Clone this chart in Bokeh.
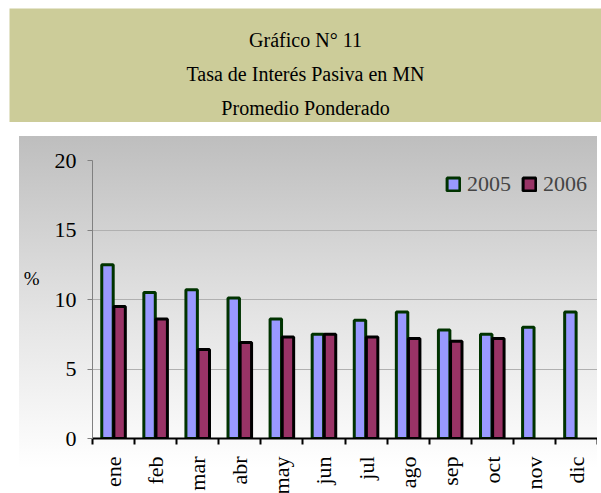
import math
from bokeh.plotting import figure
from bokeh.models import (ColumnDataSource, Range1d, FixedTicker, CustomJSTickFormatter,
                          Legend, LegendItem, LinearAxis)
from bokeh.transform import dodge
from bokeh.core.properties import value
from bokeh.embed import file_html
from bokeh.resources import INLINE

# ---- data ----
months = ["ene", "feb", "mar", "abr", "may", "jun", "jul", "ago", "sep", "oct", "nov", "dic"]
tasa_2005 = [12.5, 10.5, 10.7, 10.1, 8.6, 7.5, 8.5, 9.1, 7.8, 7.5, 8.0, 9.1]
tasa_2006 = [9.5, 8.6, 6.4, 6.9, 7.3, 7.5, 7.3, 7.2, 7.0, 7.2, float("nan"), float("nan")]
y_ticks = [0, 5, 10, 15, 20]
title_lines = ["Gráfico N° 11", "Tasa de Interés Pasiva en MN", "Promedio Ponderado"]
y_unit = "%"

FONT = "Liberation Serif"

# ---- title box ----
tf = figure(width=592, height=114, output_backend="svg", toolbar_location=None,
            x_range=Range1d(0, 592), y_range=Range1d(114, 0),
            x_axis_location=None, y_axis_location=None,
            min_border=0, outline_line_color=None)
tf.grid.visible = False
tf.background_fill_color = "#CCCC99"
tf.border_fill_color = "#CCCC99"
tsrc = ColumnDataSource(dict(x=[296, 296, 296], y=[31, 65, 99], t=title_lines))
tf.text(x="x", y="y", text="t", source=tsrc, text_font=value(FONT),
        text_font_size="20px", text_align="center", text_baseline="middle",
        text_color="#000000")
tf.margin = (8, 0, 0, 9)

# ---- chart ----
src = ColumnDataSource(dict(x=[i + 0.5 for i in range(len(months))], m=months,
                            a=tasa_2005, b=tasa_2006))

p = figure(frame_width=505, frame_height=278, output_backend="svg", toolbar_location=None,
           x_range=Range1d(0, len(months)), y_range=Range1d(0, 20),
           min_border_left=80, min_border_right=0, min_border_top=24, min_border_bottom=57,
           outline_line_color=None)
p.background_fill_alpha = 0
p.border_fill_alpha = 0
p.styles = {"background": "linear-gradient(to bottom, #BEBEBE 0%, #E4E4E4 50%, #FFFFFF 92%) "
                          "7px 0 / calc(100% - 7px) 100% no-repeat"}
p.margin = (14, 0, 0, 12)

r05 = p.vbar(x=dodge("x", -0.144), top="a", width=0.272, source=src,
             fill_color="#9999FF", line_color="#003300", line_width=3)
r06 = p.vbar(x=dodge("x", 0.144), top="b", width=0.272, source=src,
             fill_color="#993366", line_color="#000000", line_width=3)

# y axis
p.yaxis.ticker = FixedTicker(ticks=y_ticks)
p.yaxis.axis_line_color = "#808080"
p.yaxis.major_tick_line_color = "#808080"
p.yaxis.major_tick_out = 5
p.yaxis.major_tick_in = 0
p.yaxis.minor_tick_line_color = None
p.yaxis.major_label_text_font = FONT
p.yaxis.major_label_text_font_size = "22px"
p.yaxis.major_label_text_color = "#000000"
p.yaxis.major_label_standoff = 11

unit_axis = LinearAxis(ticker=FixedTicker(ticks=[11.5]),
                       formatter=CustomJSTickFormatter(args=dict(u=y_unit), code="return u;"),
                       axis_line_color=None, major_tick_line_color=None,
                       major_tick_out=0, major_tick_in=0, minor_tick_out=0, minor_tick_in=0,
                       minor_tick_line_color=None, major_label_standoff=12,
                       major_label_text_font=FONT, major_label_text_font_size="19px",
                       major_label_text_color="#000000")
p.add_layout(unit_axis, "left")

p.ygrid.ticker = FixedTicker(ticks=[5, 10, 15])
p.ygrid.grid_line_color = "#B0B0B0"
p.xgrid.visible = False

p.xaxis.ticker = FixedTicker(ticks=[i + 0.5 for i in range(len(months))],
                             minor_ticks=list(range(len(months) + 1)))
p.xaxis.formatter = CustomJSTickFormatter(args=dict(labels=months),
                                          code="return labels[Math.floor(tick)] || '';")
p.xaxis.axis_line_color = "#000000"
p.xaxis.axis_line_width = 2
p.xaxis.major_tick_out = 0
p.xaxis.major_tick_in = 0
p.xaxis.minor_tick_out = 6
p.xaxis.minor_tick_in = 0
p.xaxis.minor_tick_line_color = "#000000"
p.xaxis.minor_tick_line_width = 2
p.xaxis.major_label_orientation = math.pi / 2
p.xaxis.major_label_text_font = FONT
p.xaxis.major_label_text_font_size = "22px"
p.xaxis.major_label_text_color = "#000000"
p.xaxis.major_label_standoff = 12

legend = Legend(items=[LegendItem(label="2005", renderers=[r05]),
                       LegendItem(label="2006", renderers=[r06])],
                location=(351, 239), orientation="horizontal",
                background_fill_alpha=0, border_line_alpha=0,
                glyph_width=16, glyph_height=16, label_text_font=FONT,
                label_text_font_size="22px", label_standoff=6, spacing=10,
                padding=2)
p.add_layout(legend)

open("out.html", "w").write(file_html([tf, p], INLINE))
